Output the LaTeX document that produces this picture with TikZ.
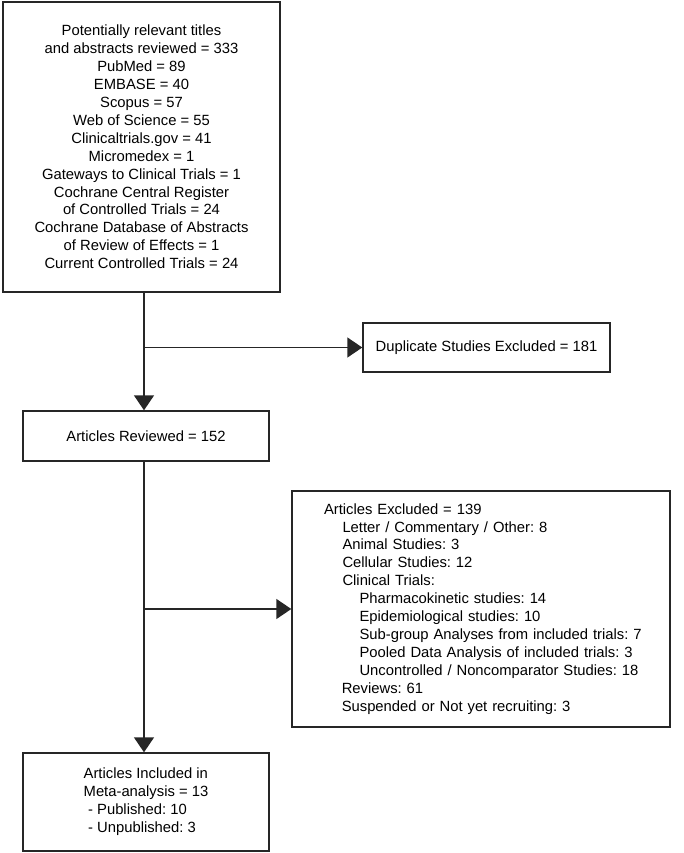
\documentclass[tikz,border=0pt]{standalone}
\usepackage{fontspec}
\setmainfont{Liberation Sans}
\usetikzlibrary{arrows.meta, positioning}

\begin{document}
\begin{tikzpicture}[
    x=1pt, y=-1pt,
    font=\fontsize{14.8}{17.9}\selectfont\frenchspacing,
    box/.style={rectangle, draw=black!85, line width=1.4pt, inner sep=0pt, align=center},
    arrow/.style={draw=black!85, line width=1.4pt, -{Triangle[length=15pt, width=20pt]}}
]
    \useasboundingbox (0,0) rectangle (684,853);

    \node[box, minimum width=277pt, minimum height=290pt] (sources) at (141.5,147) {Potentially relevant titles\\and abstracts reviewed = 333\\PubMed = 89\\EMBASE = 40\\Scopus = 57\\Web of Science = 55\\Clinicaltrials.gov = 41\\Micromedex = 1\\Gateways to Clinical Trials = 1\\Cochrane Central Register\\of Controlled Trials = 24\\Cochrane Database of Abstracts\\of Review of Effects = 1\\Current Controlled Trials = 24};
    \node[box, minimum width=247pt, minimum height=49pt] (duplicates) at (486.5,347.5) {Duplicate Studies Excluded = 181};
    \node[box, minimum width=246pt, minimum height=50pt] (reviewed) at (146,436) {Articles Reviewed = 152};
    \node[box, minimum width=378pt, minimum height=236pt, text width=314pt, align=left] (excluded) at (481,609) {\begin{tabular}{@{}l@{}}Articles Excluded = 139\\
        \hspace*{1.25em}Letter / Commentary / Other: 8\\
        \hspace*{1.25em}Animal Studies: 3\\
        \hspace*{1.25em}Cellular Studies: 12\\
        \hspace*{1.25em}Clinical Trials:\\
        \hspace*{2.4em}Pharmacokinetic studies: 14\\
        \hspace*{2.4em}Epidemiological studies: 10\\
        \hspace*{2.4em}Sub-group Analyses from included trials: 7\\
        \hspace*{2.4em}Pooled Data Analysis of included trials: 3\\
        \hspace*{2.4em}Uncontrolled / Noncomparator Studies: 18\\
        \hspace*{1.2em}Reviews: 61\\
        \hspace*{1.2em}Suspended or Not yet recruiting: 3\end{tabular}};
    \node[box, minimum width=246pt, minimum height=98pt] (included) at (146,802) {\begin{tabular}{@{}l@{}}Articles Included in\\Meta-analysis = 13\\\hspace*{0.3em}- Published: 10\\\hspace*{0.3em}- Unpublished: 3\end{tabular}};

    \coordinate (split1) at (144,347.5);
    \coordinate (split2) at (144,609);

    \draw[arrow] (sources.south -| split1) -- (split1 |- reviewed.north);
    \draw[arrow] (split1) -- (duplicates.west);
    \draw[arrow] (reviewed.south -| split2) -- (split2 |- included.north);
    \draw[arrow] (split2) -- (excluded.west);
\end{tikzpicture}
\end{document}
